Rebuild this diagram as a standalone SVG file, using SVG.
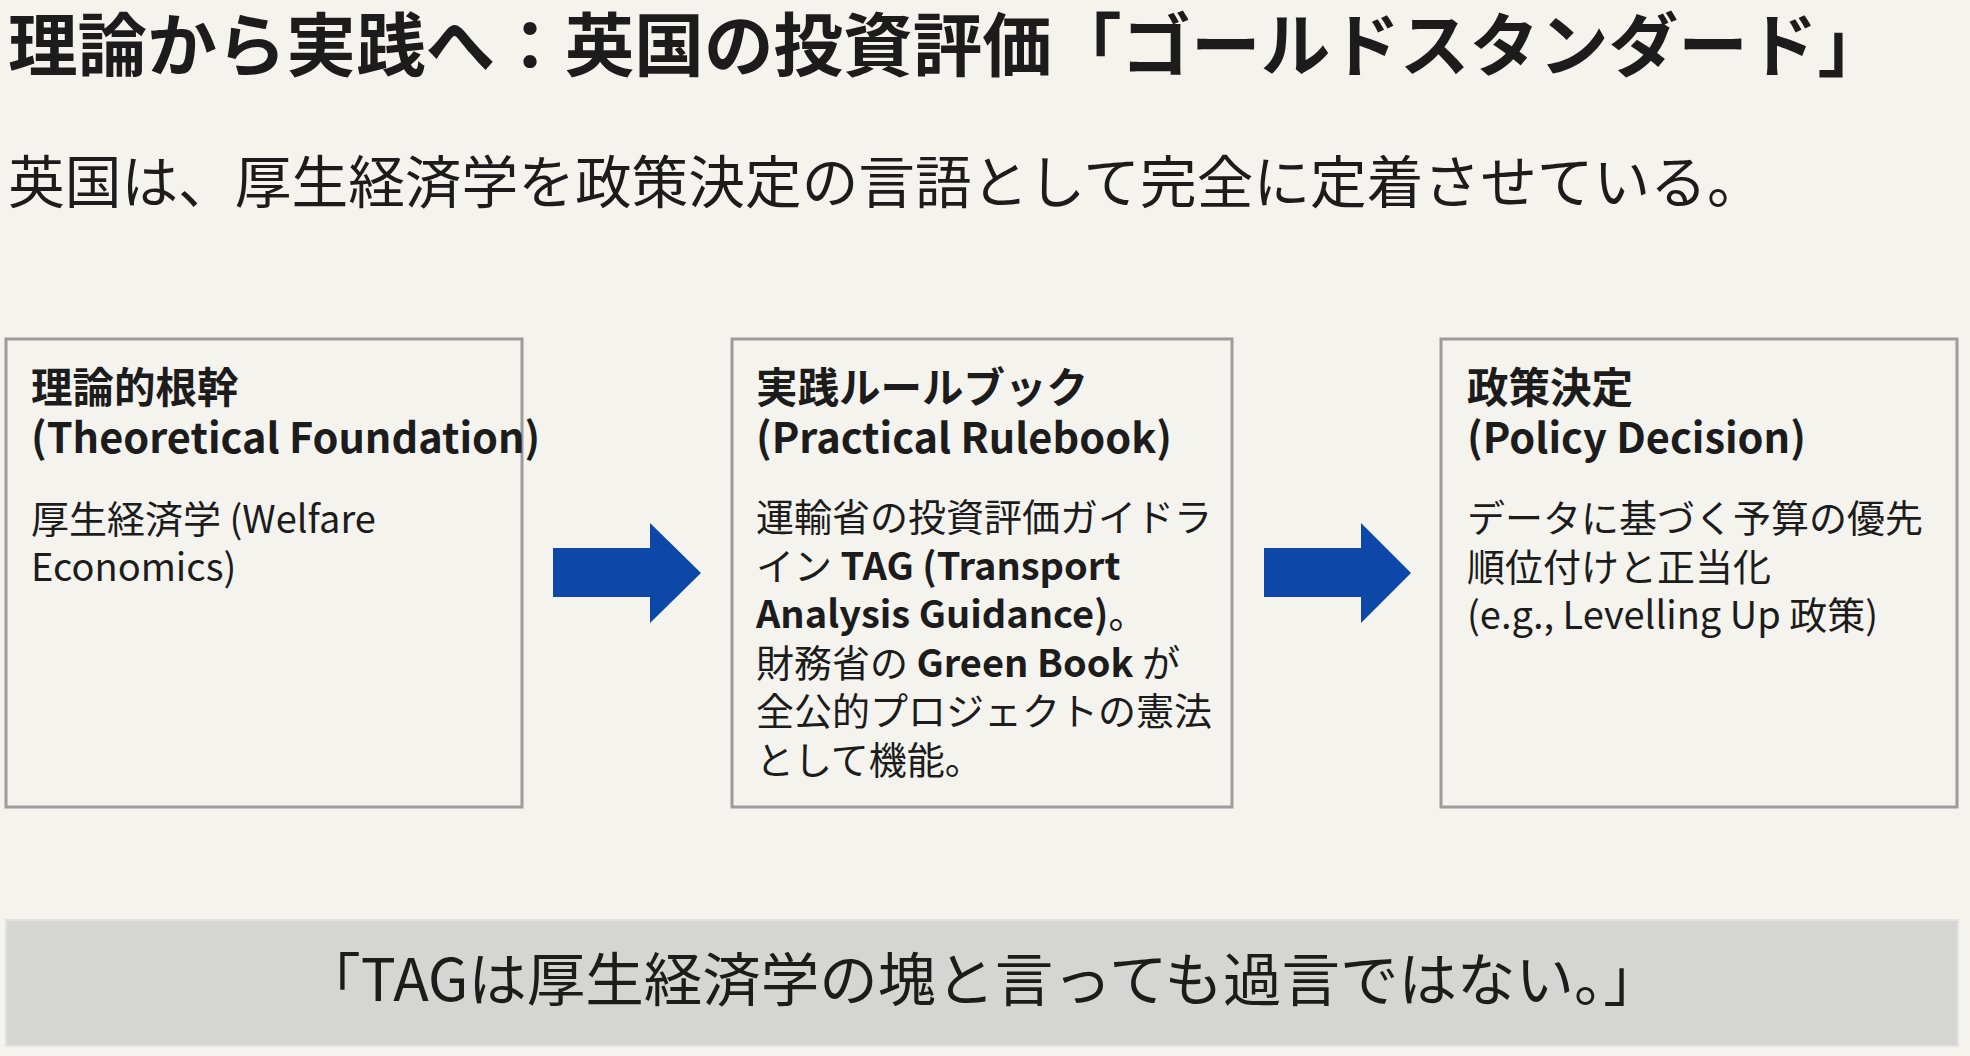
<svg xmlns="http://www.w3.org/2000/svg" width="1970" height="1056" viewBox="0 0 1970 1056">
<style>
text { font-family: "Noto Sans CJK JP", "Noto Sans", sans-serif; fill: #1c1c1c; }
.h1 { font-size: 69.6px; font-weight: 700; }
.sub { font-size: 56.7px; font-weight: 400; }
.box { fill: #f4f3ee; stroke: #9c9c9c; stroke-width: 3; }
.bt { font-size: 41.5px; font-weight: 700; }
.bd { font-size: 38px; font-weight: 400; }
.b { font-weight: 700; }
.arrow { fill: #0d47a8; }
.banner { fill: #d5d5d4; stroke: #e2e2e0; stroke-width: 2; }
.quote { font-size: 58.5px; font-weight: 400; }
</style>
<rect x="0" y="0" width="1970" height="1056" fill="#f4f3ee"/>
<text class="h1" x="8" y="71">理論から実践へ：英国の投資評価「ゴールドスタンダード」</text>
<text class="sub" x="8" y="203">英国は、厚生経済学を政策決定の言語として完全に定着させている。</text>

<g id="node-theory">
<rect class="box" x="6" y="339" width="516" height="468"/>
<text class="bt" x="31" y="403">理論的根幹</text>
<text class="bt" x="31" y="453">(Theoretical Foundation)</text>
<text class="bd" x="31" y="533">厚生経済学 (Welfare</text>
<text class="bd" x="31" y="581">Economics)</text>
</g>

<g id="node-rulebook">
<rect class="box" x="732" y="339" width="500" height="468"/>
<text class="bt" x="756" y="403">実践ルールブック</text>
<text class="bt" x="756" y="453">(Practical Rulebook)</text>
<text class="bd" x="756" y="531">運輸省の投資評価ガイドラ</text>
<text class="bd" x="756" y="579.5">イン <tspan class="b">TAG (Transport</tspan></text>
<text class="bd" x="756" y="628"><tspan class="b">Analysis Guidance)</tspan>。</text>
<text class="bd" x="756" y="676.5">財務省の <tspan class="b">Green Book</tspan> が</text>
<text class="bd" x="756" y="725">全公的プロジェクトの憲法</text>
<text class="bd" x="756" y="773.5">として機能。</text>
</g>

<g id="node-policy">
<rect class="box" x="1441" y="339" width="516" height="468"/>
<text class="bt" x="1467" y="403">政策決定</text>
<text class="bt" x="1467" y="453">(Policy Decision)</text>
<text class="bd" x="1467" y="532">データに基づく予算の優先</text>
<text class="bd" x="1467" y="580.5">順位付けと正当化</text>
<text class="bd" x="1467" y="629">(e.g., Levelling Up 政策)</text>
</g>

<g id="connectors">
<polygon class="arrow" points="553,548 650,548 650,523 701,573 650,623 650,597 553,597"/>
<polygon class="arrow" points="1264,548 1361,548 1361,523 1411,573 1361,623 1361,597 1264,597"/>
</g>

<g id="banner">
<rect class="banner" x="6" y="920" width="1952" height="126"/>
<text class="quote" x="982" y="1001" text-anchor="middle">「TAGは厚生経済学の塊と言っても過言ではない。」</text>
</g>
</svg>
